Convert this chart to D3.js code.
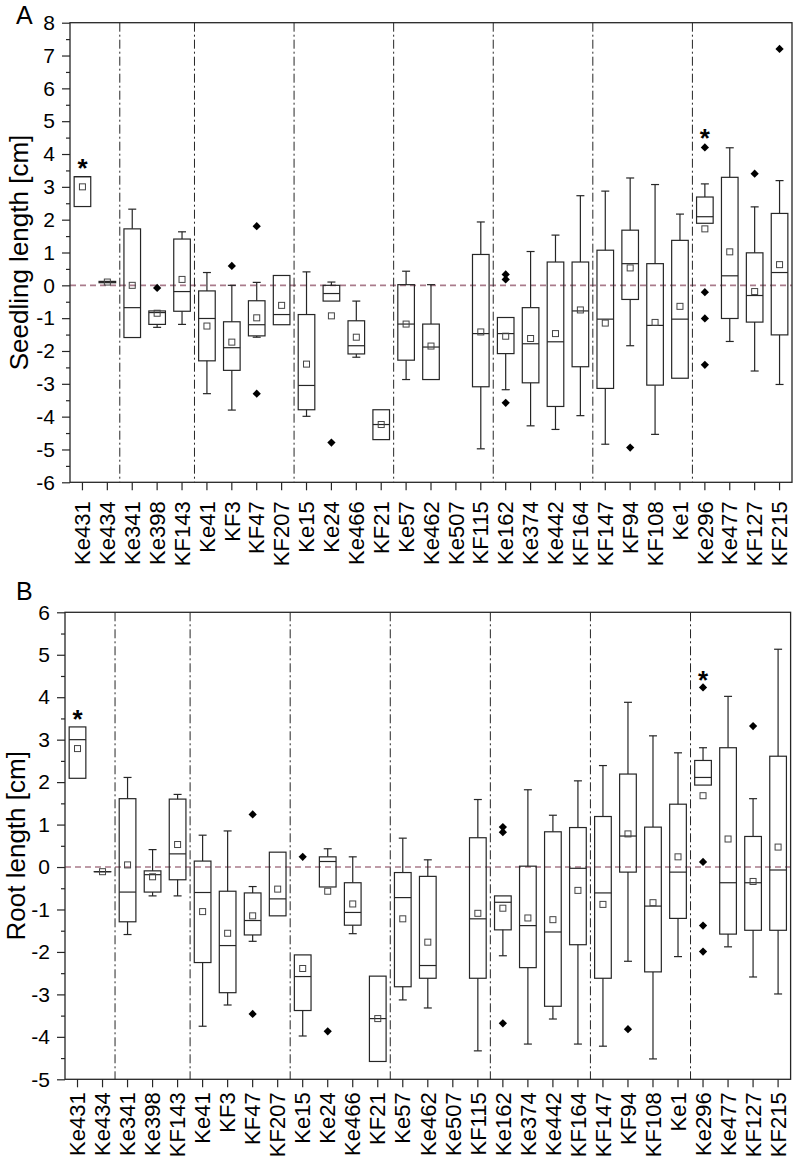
<!DOCTYPE html>
<html>
<head>
<meta charset="utf-8">
<script src="https://cdnjs.cloudflare.com/ajax/libs/d3/7.8.5/d3.min.js"></script>
<style>
  body { margin: 0; background: #fff; }
  svg text { font-family: "Liberation Sans", Arial, Helvetica, sans-serif; fill: #000; }
</style>
</head>
<body>
<div id="chart"></div>
<script>
// lines (categories), same order in both panels
var cats = ["Ke431","Ke434","Ke341","Ke398","KF143","Ke41","KF3","KF47","KF207",
  "Ke15","Ke24","Ke466","KF21","Ke57","Ke462","Ke507","KF115","Ke162","Ke374",
  "Ke442","KF164","KF147","KF94","KF108","Ke1","Ke296","Ke477","KF127","KF215"];

// dash-dot separators after these categories
var groupEnds = ["Ke434","KF143","KF207","KF21","KF115","KF164","Ke1"];

// A: seedling length [cm]
var seedQ1   = [2.40, 0.08, -1.59, -1.19, -0.79, -2.30, -2.59, -1.54, -1.20, -3.79, -0.48, -2.09, -4.70, -2.28, -2.87, null, -3.09, -2.08, -2.97, -3.69, -2.48, -3.14, -0.43, -3.04, -2.83, 1.89, -1.01, -1.12, -1.51];
var seedMed  = [3.31, 0.10, -0.68, -0.83, -0.19, -1.01, -1.90, -1.20, -0.89, -3.05, -0.25, -1.84, -4.24, -1.18, -1.88, null, -1.47, -1.47, -1.78, -1.72, -0.78, -1.03, 0.66, -1.22, -1.03, 2.09, 0.29, -0.31, 0.39];
var seedQ3   = [3.31, 0.12, 1.72, -0.78, 1.41, -0.17, -1.11, -0.47, 0.30, -0.89, 0.00, -1.08, -3.79, 0.02, -1.18, null, 0.94, -0.98, -0.68, 0.71, 0.71, 1.07, 1.68, 0.66, 1.37, 2.69, 3.29, 0.99, 2.19];
var seedLo   = [2.40, 0.08, -1.59, -1.28, -1.19, -3.30, -3.80, -1.58, -1.20, -3.99, -0.48, -2.19, -4.70, -2.87, -2.87, null, -4.98, -3.18, -4.28, -4.39, -3.97, -4.84, -1.84, -4.54, -2.83, 1.89, -1.71, -2.61, -3.02];
var seedHi   = [3.31, 0.12, 2.32, -0.78, 1.63, 0.39, 0.00, 0.09, 0.30, 0.41, 0.10, -0.48, -3.79, 0.43, 0.02, null, 1.93, -0.98, 1.03, 1.53, 2.73, 2.87, 3.27, 3.07, 2.17, 3.09, 4.19, 2.39, 3.19];
var seedMean = [3.00, 0.10, 0.00, -0.85, 0.18, -1.24, -1.73, -0.99, -0.61, -2.40, -0.93, -1.58, -4.24, -1.18, -1.85, null, -1.42, -1.55, -1.62, -1.47, -0.75, -1.15, 0.53, -1.13, -0.64, 1.72, 1.02, -0.19, 0.63];
var seedOut  = [[], [], [], [-0.08], [], [], [0.59], [1.80, -3.30], [], [], [-4.79], [], [], [], [], [], [],
  [0.33, 0.18, -3.58], [], [], [], [], [-4.94], [], [], [4.20, -0.21, -1.01, -2.42], [], [3.40], [7.20]];
var seedStar = [3.74, 4.63];

// B: root length [cm]
var rootQ1   = [2.09, -0.11, -1.29, -0.59, -0.30, -2.25, -2.96, -1.60, -1.15, -3.38, -0.47, -1.37, -4.58, -2.82, -2.62, null, -2.62, -1.48, -2.37, -3.28, -1.83, -2.62, -0.12, -2.47, -1.21, 1.93, -1.58, -1.49, -1.49];
var rootMed  = [3.00, -0.11, -0.59, -0.18, 0.31, -0.60, -1.85, -1.26, -0.75, -2.58, 0.13, -1.07, -3.57, -0.72, -2.32, null, -1.22, -0.83, -1.38, -1.53, -0.03, -0.61, 0.73, -0.92, -0.12, 2.11, -0.37, -0.37, -0.07];
var rootQ3   = [3.30, -0.11, 1.61, -0.09, 1.60, 0.14, -0.57, -0.61, 0.35, -2.07, 0.24, -0.37, -2.57, -0.13, -0.22, null, 0.69, -0.68, 0.02, 0.83, 0.93, 1.19, 2.19, 0.94, 1.48, 2.51, 2.81, 0.72, 2.61];
var rootLo   = [2.09, -0.11, -1.59, -0.68, -0.68, -3.75, -3.25, -1.75, -1.15, -3.98, -0.47, -1.57, -4.58, -3.13, -3.32, null, -4.33, -2.09, -4.17, -3.58, -4.17, -4.22, -2.22, -4.52, -2.11, 1.93, -1.88, -2.59, -2.99];
var rootHi   = [3.30, -0.11, 2.11, 0.41, 1.71, 0.75, 0.85, -0.46, 0.35, -2.07, 0.43, 0.24, -2.57, 0.68, 0.17, null, 1.59, -0.68, 1.82, 1.22, 2.03, 2.39, 3.88, 3.09, 2.69, 2.81, 4.02, 1.61, 5.13];
var rootMean = [2.79, -0.11, 0.05, -0.23, 0.53, -1.05, -1.56, -1.15, -0.52, -2.39, -0.57, -0.87, -3.57, -1.22, -1.77, null, -1.09, -0.97, -1.20, -1.24, -0.55, -0.88, 0.78, -0.84, 0.24, 1.68, 0.66, -0.34, 0.47];
var rootOut  = [[], [], [], [], [], [], [], [1.24, -3.46], [], [0.24], [-3.87], [], [], [], [], [], [],
  [0.94, 0.82, -3.68], [], [], [], [], [-3.82], [], [], [4.23, 0.12, -1.38, -1.99], [], [3.32], []];
var rootStar = [3.60, 4.52];

var starCats = ["Ke431", "Ke296"];

var width = 793, height = 1166;
var ink = "#262626";

var svg = d3.select("#chart").append("svg")
    .attr("width", width)
    .attr("height", height);

function drawPanel(p) {
  var x = d3.scaleBand().domain(cats).range(p.xRange);
  var y = d3.scaleLinear().domain(p.yDomain).range(p.yRange);
  var left = p.xRange[0], right = p.xRange[1];
  var top = p.yRange[1], bottom = p.yRange[0];
  var bw = x.bandwidth();
  var g = svg.append("g");

  // zero reference line
  g.append("line")
      .attr("x1", left).attr("x2", right)
      .attr("y1", y(0)).attr("y2", y(0))
      .attr("stroke", "#a97b8b")
      .attr("stroke-width", 1.6)
      .attr("stroke-dasharray", "6,4");

  // group separators
  g.selectAll(".sep")
    .data(groupEnds)
    .enter().append("line")
      .attr("x1", d => x(d) + bw).attr("x2", d => x(d) + bw)
      .attr("y1", top).attr("y2", bottom)
      .attr("stroke", ink)
      .attr("stroke-width", 1)
      .attr("stroke-dasharray", "9,3,2,3");

  // left axis, major + minor ticks
  var lo = p.yDomain[0], hi = p.yDomain[1];
  g.append("g")
      .attr("transform", `translate(${left},0)`)
      .call(d3.axisLeft(y).tickValues(d3.range(lo, hi + 1)).tickSize(8).tickPadding(7)
        .tickFormat(d => String(d)))
      .call(a => a.select(".domain").remove())
      .call(a => a.selectAll(".tick line").attr("stroke", ink).attr("stroke-width", 1.2))
      .call(a => a.selectAll("text").attr("font-size", 21).attr("fill", "#000"));
  g.append("g")
      .attr("transform", `translate(${left},0)`)
      .call(d3.axisLeft(y).tickValues(d3.range(lo + 0.5, hi, 1)).tickSize(4).tickFormat(""))
      .call(a => a.select(".domain").remove())
      .call(a => a.selectAll(".tick line").attr("stroke", ink).attr("stroke-width", 1.2));

  // bottom axis with rotated labels
  g.append("g")
      .attr("transform", `translate(0,${bottom})`)
      .call(d3.axisBottom(x).tickSize(8))
      .call(a => a.select(".domain").remove())
      .call(a => a.selectAll(".tick line").attr("stroke", ink).attr("stroke-width", 1.2))
      .call(a => a.selectAll("text")
        .attr("transform", "rotate(-90)")
        .attr("x", -p.labelGap)
        .attr("y", 0)
        .attr("dy", "0.35em")
        .attr("text-anchor", "end")
        .attr("font-size", 22)
        .attr("fill", "#000"));

  // frame
  g.append("rect")
      .attr("x", left).attr("y", top)
      .attr("width", right - left).attr("height", bottom - top)
      .attr("fill", "none")
      .attr("stroke", ink)
      .attr("stroke-width", 1.3);

  // boxes
  var boxes = g.append("g");
  cats.forEach(function(c, i) {
    if (p.q1[i] === null) return;
    var cx = x(c) + bw / 2;
    var bg = boxes.append("g").attr("stroke", ink).attr("stroke-width", 1.2).attr("fill", "none");
    if (p.hi[i] > p.q3[i]) {
      bg.append("line").attr("x1", cx).attr("x2", cx).attr("y1", y(p.q3[i])).attr("y2", y(p.hi[i]));
      bg.append("line").attr("x1", cx - 4).attr("x2", cx + 4).attr("y1", y(p.hi[i])).attr("y2", y(p.hi[i]));
    }
    if (p.lo[i] < p.q1[i]) {
      bg.append("line").attr("x1", cx).attr("x2", cx).attr("y1", y(p.q1[i])).attr("y2", y(p.lo[i]));
      bg.append("line").attr("x1", cx - 4).attr("x2", cx + 4).attr("y1", y(p.lo[i])).attr("y2", y(p.lo[i]));
    }
    bg.append("rect")
        .attr("x", cx - bw / 3).attr("width", bw * 2 / 3)
        .attr("y", y(p.q3[i])).attr("height", Math.max(0.01, y(p.q1[i]) - y(p.q3[i])));
    bg.append("line")
        .attr("x1", cx - bw / 3).attr("x2", cx + bw / 3)
        .attr("y1", y(p.med[i])).attr("y2", y(p.med[i]));
    bg.append("rect")
        .attr("x", cx - 3).attr("y", y(p.mean[i]) - 3)
        .attr("width", 6).attr("height", 6)
        .attr("stroke", "#444").attr("stroke-width", 1);
    p.out[i].forEach(function(v) {
      boxes.append("path")
          .attr("d", d3.symbol().type(d3.symbolSquare).size(34)())
          .attr("transform", `translate(${cx},${y(v)}) rotate(45)`)
          .attr("fill", "#000");
    });
  });

  // significance stars
  g.selectAll(".star")
    .data(starCats)
    .enter().append("text")
      .attr("x", d => x(d) + bw / 2)
      .attr("y", (d, i) => y(p.star[i]) + 14)
      .attr("text-anchor", "middle")
      .attr("font-size", 26)
      .attr("font-weight", "bold")
      .text("*");

  // y title
  g.append("text")
      .attr("transform", `translate(${p.titleX},${(top + bottom) / 2}) rotate(-90)`)
      .attr("text-anchor", "middle")
      .attr("font-size", 26)
      .text(p.title);

  // panel letter
  g.append("text")
      .attr("x", 16).attr("y", p.letterY)
      .attr("font-size", 25)
      .text(p.letter);
}

drawPanel({
  letter: "A", letterY: 24, title: "Seedling length [cm]", titleX: 28,
  xRange: [70, 792], yDomain: [-6, 8], yRange: [482.3, 22.7], labelGap: 19,
  q1: seedQ1, med: seedMed, q3: seedQ3, lo: seedLo, hi: seedHi, mean: seedMean,
  out: seedOut, star: seedStar
});

drawPanel({
  letter: "B", letterY: 600, title: "Root length [cm]", titleX: 25,
  xRange: [65, 790.6], yDomain: [-5, 6], yRange: [1079.3, 612.3], labelGap: 13,
  q1: rootQ1, med: rootMed, q3: rootQ3, lo: rootLo, hi: rootHi, mean: rootMean,
  out: rootOut, star: rootStar
});
</script>
</body>
</html>
